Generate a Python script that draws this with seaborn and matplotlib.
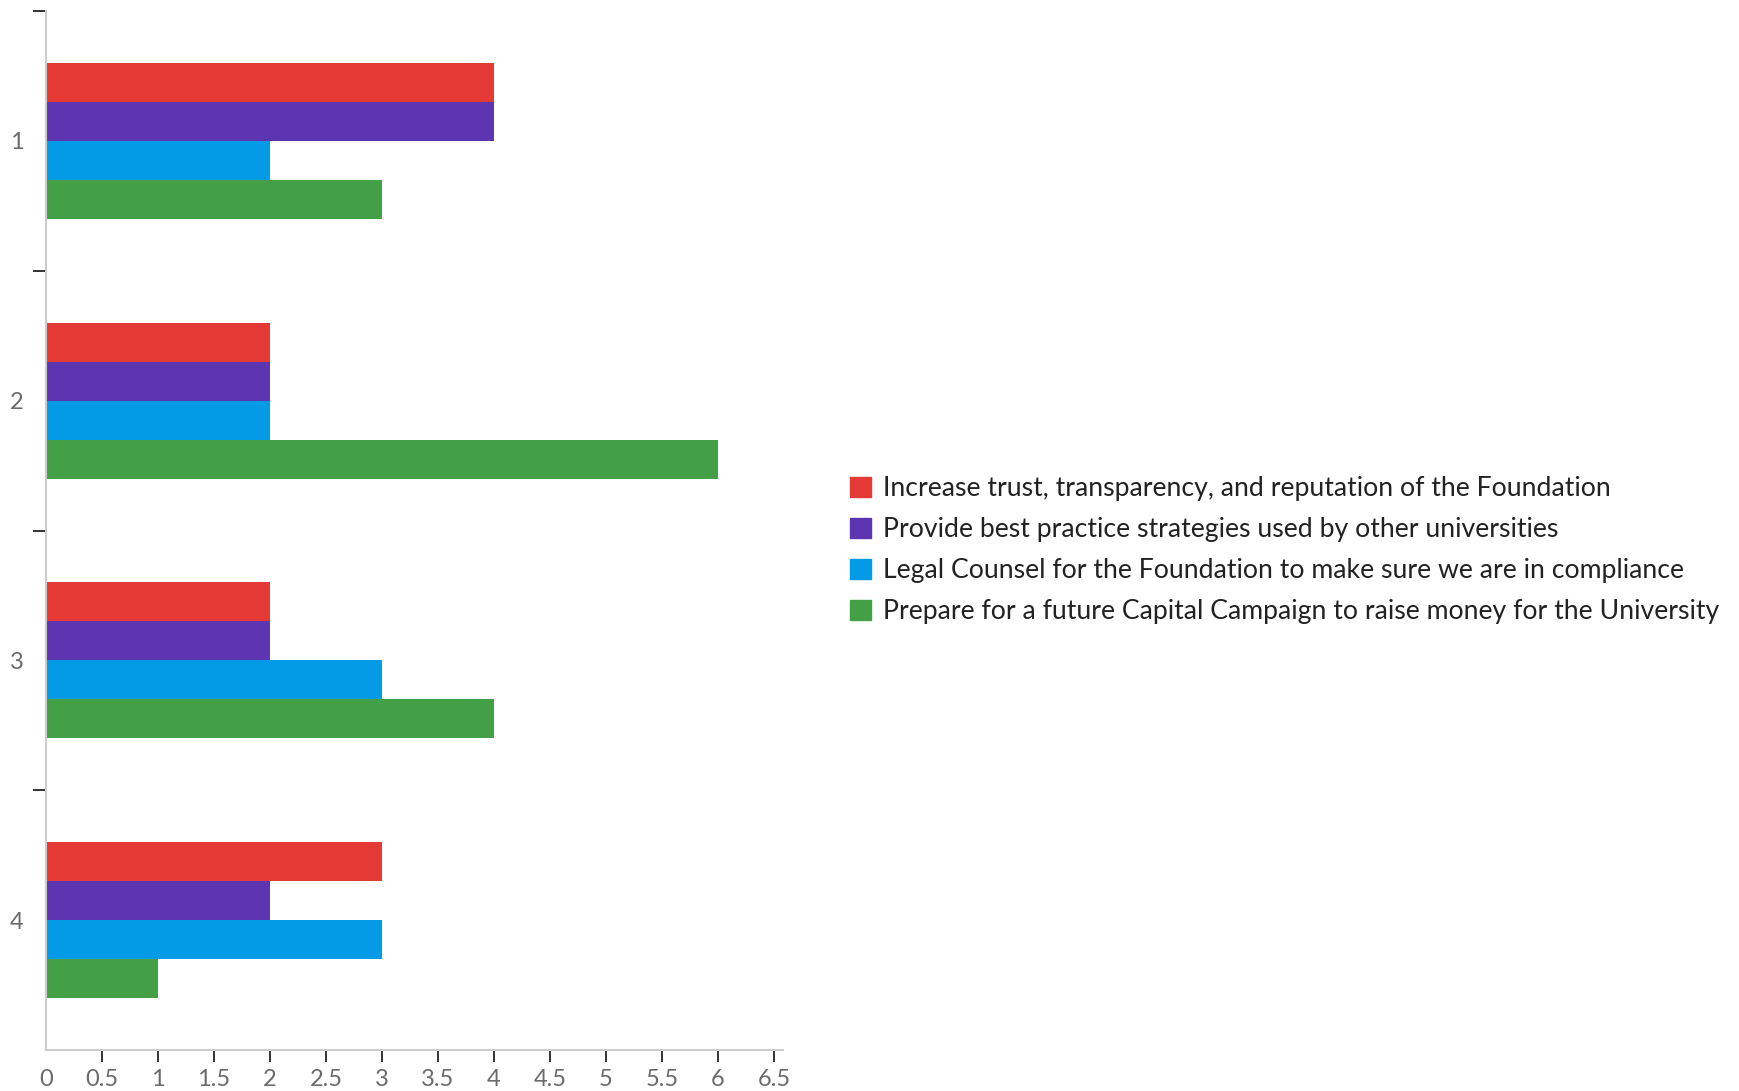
import matplotlib
matplotlib.use("Agg")
import matplotlib.pyplot as plt
import seaborn as sns
import pandas as pd
import numpy as np

# Survey answers: one row per question, one series per priority
questions = ["1", "2", "3", "4"]
priorities = [
    "Increase trust, transparency, and reputation of the Foundation",
    "Provide best practice strategies used by other universities",
    "Legal Counsel for the Foundation to make sure we are in compliance",
    "Prepare for a future Capital Campaign to raise money for the University",
]
trust_counts = [4, 2, 2, 3]
best_practice_counts = [4, 2, 2, 2]
legal_counts = [2, 2, 3, 3]
capital_counts = [3, 6, 4, 1]
x_ticks = [0, 0.5, 1, 1.5, 2, 2.5, 3, 3.5, 4, 4.5, 5, 5.5, 6, 6.5]

palette = ["#E53935", "#5E35B1", "#039BE5", "#43A047"]

rows = []
for name, counts in zip(priorities, [trust_counts, best_practice_counts, legal_counts, capital_counts]):
    for q, c in zip(questions, counts):
        rows.append({"question": q, "priority": name, "count": c})
df = pd.DataFrame(rows)

sns.set_theme(style="white")
plt.rcParams["font.family"] = ["Lato", "DejaVu Sans"]

W, H = 1740, 1091
fig = plt.figure(figsize=(W / 100, H / 100), dpi=100)
ax = fig.add_axes([46 / W, 1 - 1050 / H, (783 - 46) / W, (1050 - 11) / H])

sns.barplot(
    data=df, y="question", x="count", hue="priority",
    order=questions, hue_order=priorities, palette=palette,
    orient="h", width=0.6, saturation=1, linewidth=0, ax=ax,
)

ax.set_xlim(0, 6.58)
ax.set_ylim(3.5, -0.5)
ax.set_xlabel("")
ax.set_ylabel("")

# x axis
ax.set_xticks(x_ticks)
ax.set_xticklabels([f"{v:g}" for v in x_ticks])
ax.tick_params(axis="x", direction="out", length=8.6, width=1.4, color="#333333",
               pad=5, labelsize=17, labelcolor="#6b6b6b", bottom=True)
ax.xaxis.get_major_ticks()[0].tick1line.set_visible(False)

# y axis: labels at category centres, tick marks at category boundaries
ax.set_yticks(range(len(questions)))
ax.set_yticklabels(questions)
ax.set_yticks(np.arange(-0.5, len(questions) - 1, 1.0), minor=True)
ax.tick_params(axis="y", which="major", length=0, pad=16, labelsize=17,
               labelcolor="#6b6b6b", left=True)
ax.tick_params(axis="y", which="minor", direction="out", length=9.5, width=1.4,
               color="#333333", left=True)

for side in ("top", "right"):
    ax.spines[side].set_visible(False)
for side in ("left", "bottom"):
    ax.spines[side].set_color("#cccccc")
    ax.spines[side].set_linewidth(1.5)

ax.get_legend().remove()
handles = [plt.Rectangle((0, 0), 1, 1, color=c) for c in palette]
fig.legend(
    handles, priorities, loc="upper left",
    bbox_to_anchor=(850 / W, 1 - 476 / H), frameon=False,
    fontsize=19.2, labelcolor="#222222",
    handlelength=0.8, handleheight=0.8, handletextpad=0.42,
    labelspacing=0.6, borderpad=0, borderaxespad=0,
)

fig.savefig("out.png", dpi=100)
